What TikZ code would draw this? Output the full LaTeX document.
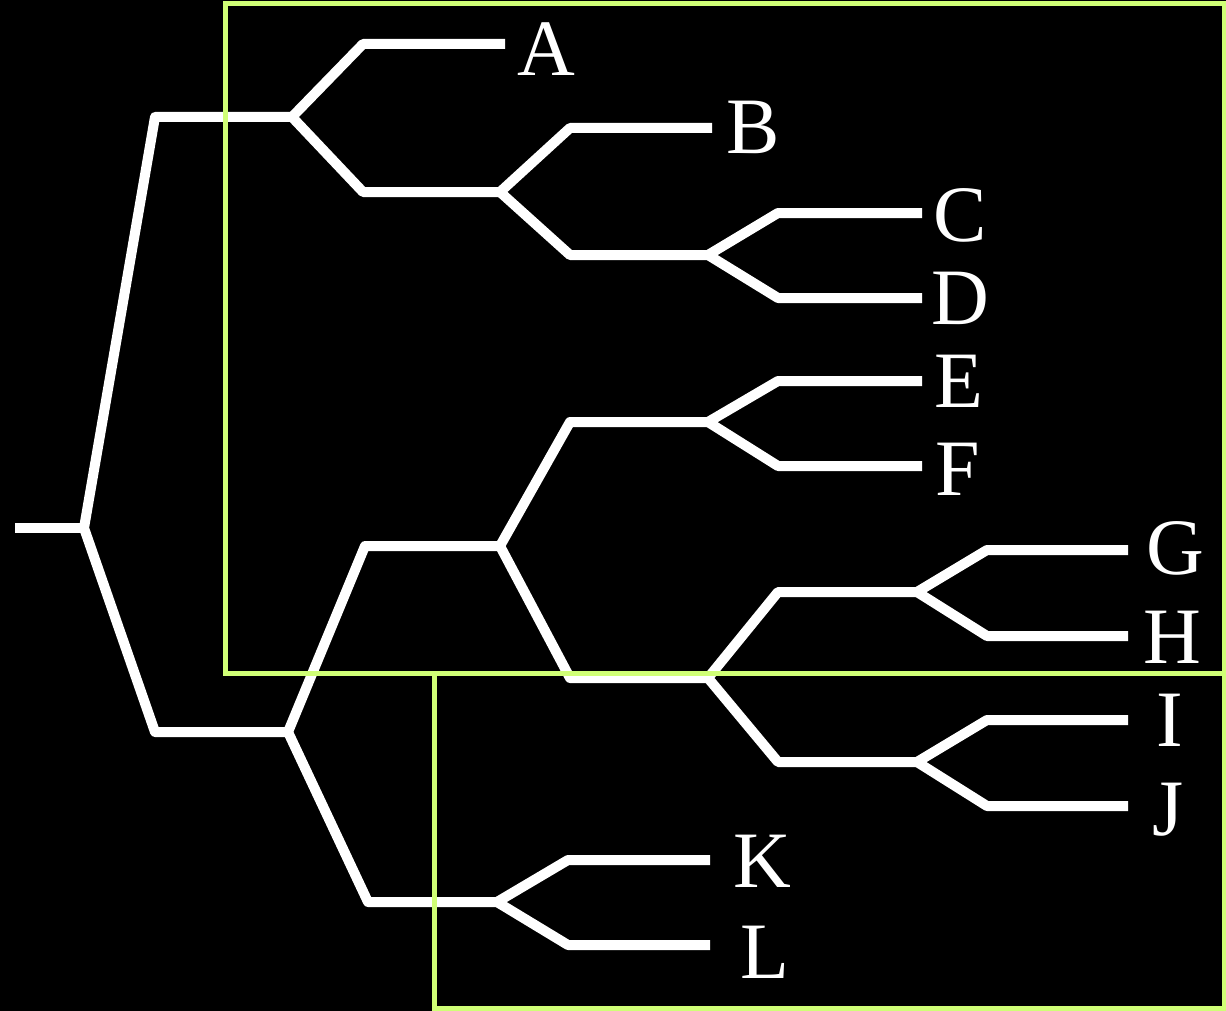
\documentclass[tikz,border=0pt]{standalone}
\usepackage{fontspec}
\setmainfont{Liberation Serif}
\definecolor{boxgreen}{RGB}{208,255,118}

\begin{document}
\begin{tikzpicture}[x=.5pt,y=-.5pt,
  branch/.style={draw=white,line width=5pt,line join=round},
  box/.style={draw=boxgreen,line width=2.5pt},
  leaf/.style={anchor=center,inner sep=0pt,text=white,font=\fontsize{40}{44}\selectfont}]
\path[use as bounding box,fill=black] (0,0) rectangle (1226,1011);
\coordinate (r0) at (15,528);
\coordinate (r) at (84,528);
\coordinate (e1) at (155,117);
\coordinate (n1) at (292,117);
\coordinate (e2) at (155,732);
\coordinate (n2) at (288,732);
\coordinate (e3) at (363,44);
\coordinate (tA) at (505,44);
\coordinate (e4) at (363,192);
\coordinate (n3) at (500,192);
\coordinate (e5) at (570,128);
\coordinate (tB) at (712,128);
\coordinate (e6) at (570,255);
\coordinate (n4) at (708,255);
\coordinate (e7) at (778,213);
\coordinate (tC) at (922,213);
\coordinate (e8) at (778,298);
\coordinate (tD) at (922,298);
\coordinate (e9) at (365,546);
\coordinate (n5) at (500,546);
\coordinate (e10) at (368,902);
\coordinate (n6) at (497,902);
\coordinate (e11) at (570,422);
\coordinate (n7) at (708,422);
\coordinate (e12) at (570,678);
\coordinate (n8) at (708,678);
\coordinate (e13) at (778,381);
\coordinate (tE) at (922,381);
\coordinate (e14) at (778,466);
\coordinate (tF) at (922,466);
\coordinate (e15) at (778,592);
\coordinate (n9) at (917,592);
\coordinate (e16) at (778,762);
\coordinate (n10) at (917,762);
\coordinate (e17) at (987,550);
\coordinate (tG) at (1128,550);
\coordinate (e18) at (987,636);
\coordinate (tH) at (1128,636);
\coordinate (e19) at (987,720);
\coordinate (tI) at (1128,720);
\coordinate (e20) at (987,806);
\coordinate (tJ) at (1128,806);
\coordinate (e21) at (568,860);
\coordinate (tK) at (710,860);
\coordinate (e22) at (568,945);
\coordinate (tL) at (710,945);
\draw[branch] (r0) -- (r);
\draw[branch] (n1) -- (e1) -- (r) -- (e2) -- (n2);
\draw[branch] (tA) -- (e3) -- (n1) -- (e4) -- (n3);
\draw[branch] (tB) -- (e5) -- (n3) -- (e6) -- (n4);
\draw[branch] (tC) -- (e7) -- (n4) -- (e8) -- (tD);
\draw[branch] (n5) -- (e9) -- (n2) -- (e10) -- (n6);
\draw[branch] (n7) -- (e11) -- (n5) -- (e12) -- (n8);
\draw[branch] (tE) -- (e13) -- (n7) -- (e14) -- (tF);
\draw[branch] (n9) -- (e15) -- (n8) -- (e16) -- (n10);
\draw[branch] (tG) -- (e17) -- (n9) -- (e18) -- (tH);
\draw[branch] (tI) -- (e19) -- (n10) -- (e20) -- (tJ);
\draw[branch] (tK) -- (e21) -- (n6) -- (e22) -- (tL);
\node[leaf] (labA) at (546,49) {A};
\node[leaf] (labB) at (753,127) {B};
\node[leaf] (labC) at (960,215) {C};
\node[leaf] (labD) at (960,298) {D};
\node[leaf] (labE) at (959,381) {E};
\node[leaf] (labF) at (958,469) {F};
\node[leaf] (labG) at (1175,548) {G};
\node[leaf] (labH) at (1172,637) {H};
\node[leaf] (labI) at (1170,720) {I};
\node[leaf] (labJ) at (1168,810) {J};
\node[leaf] (labK) at (762,861) {K};
\node[leaf] (labL) at (765,952) {L};
\draw[box] (225,4) rectangle (1224,673);
\draw[box] (434,673) rectangle (1224,1008);
\end{tikzpicture}
\end{document}
